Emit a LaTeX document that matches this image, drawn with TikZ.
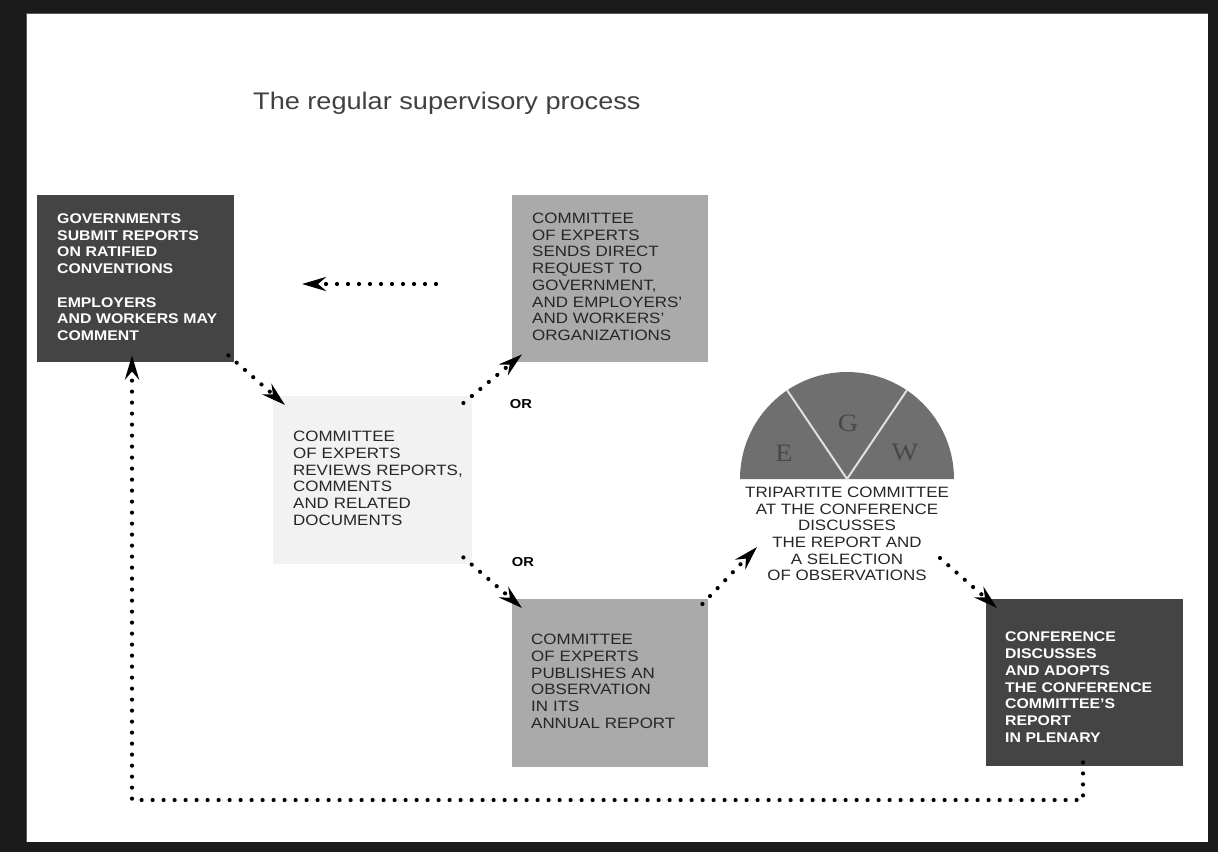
\documentclass[tikz,border=0pt]{standalone}
\usepackage{fontspec}
\setmainfont{Liberation Sans}[FakeStretch=1.13]
\newfontfamily\egwfont{Liberation Serif}[FakeStretch=1.13]
\usetikzlibrary{arrows.meta,calc}
\definecolor{framec}{HTML}{1B1B1B}
\definecolor{darkbox}{HTML}{444444}
\definecolor{midbox}{HTML}{AAAAAA}
\definecolor{lightbox}{HTML}{F2F2F2}
\definecolor{fan}{HTML}{6F6F6F}
\definecolor{fanletter}{HTML}{484848}
\definecolor{ink}{HTML}{262626}
\definecolor{titleink}{HTML}{404040}
\newcommand{\lines}[1]{\begin{tabular}{@{}l@{}}#1\end{tabular}}
\begin{document}
\begin{tikzpicture}[x=1pt,y=-1pt,
  stepbox/.style={rectangle, anchor=north west, inner sep=0pt, align=left},
  darkstep/.style={stepbox, fill=darkbox, text=white, font=\fontsize{14}{16.7}\selectfont\bfseries},
  midstep/.style={stepbox, fill=midbox, text=ink, font=\fontsize{15}{16.7}\selectfont},
  lightstep/.style={stepbox, fill=lightbox, text=ink, font=\fontsize{15}{16.7}\selectfont},
  orlabel/.style={inner sep=0pt, font=\fontsize{13}{15}\selectfont\bfseries, text=black},
  egwletter/.style={inner sep=0pt, text=fanletter, font=\egwfont\fontsize{25}{25}\selectfont},
  sepline/.style={draw=white!88!black, line width=2pt},
  dotline/.style={line width=4.2pt, line cap=round, dash pattern=on 0pt off 11pt,
    -{Stealth[length=24pt,width=14pt,inset=8pt]}}
]
\useasboundingbox (0,0) rectangle (1218,852);
\fill[framec] (0,0) rectangle (1218,852);
\fill[white] (26,13) rectangle (1208,842);
\draw[gray!70!black, line width=1pt] (26.5,842) -- (26.5,13.5) -- (1208,13.5);

% title
\node[anchor=base west, inner sep=0pt, text=titleink, font=\fontsize{24}{28}\selectfont] (title) at (253,109) {The regular supervisory process};

% boxes
\node[darkstep, minimum width=197pt, minimum height=167pt, text width=157pt] (gov) at (37,195)
  {\lines{GOVERNMENTS\\SUBMIT REPORTS\\ON RATIFIED\\CONVENTIONS\\ \\EMPLOYERS\\AND WORKERS MAY\\COMMENT}};
\node[lightstep, minimum width=199pt, minimum height=168pt, text width=159pt] (rev) at (273,396)
  {\lines{COMMITTEE\\OF EXPERTS\\REVIEWS REPORTS,\\COMMENTS\\AND RELATED\\DOCUMENTS}};
\node[midstep, minimum width=196pt, minimum height=167pt, text width=156pt] (dir) at (512,195)
  {\lines{COMMITTEE\\OF EXPERTS\\SENDS DIRECT\\REQUEST TO\\GOVERNMENT,\\AND EMPLOYERS'\\AND WORKERS'\\ORGANIZATIONS}};
\node[midstep, minimum width=196pt, minimum height=168pt, text width=158pt] (obs) at (512,599)
  {\lines{COMMITTEE\\OF EXPERTS\\PUBLISHES AN\\OBSERVATION\\IN ITS\\ANNUAL REPORT}};
\node[darkstep, minimum width=197pt, minimum height=167pt, text width=159pt] (conf) at (986,599)
  {\raisebox{-6pt}[\height][\depth]{\lines{CONFERENCE\\DISCUSSES\\AND ADOPTS\\THE CONFERENCE\\COMMITTEE'S\\REPORT\\IN PLENARY}}};

% tripartite fan
\coordinate (egw) at (847,479);
\fill[fan] ($(egw)+(-107,0)$) arc[start angle=180, end angle=360, radius=107] -- cycle;
\draw[sepline] (egw) -- ($(egw)+(236:107)$);
\draw[sepline] (egw) -- ($(egw)+(304:107)$);
\node[egwletter] (le) at (784,453) {E};
\node[egwletter] (lg) at (848,423) {G};
\node[egwletter] (lw) at (905,452) {W};
\node[inner sep=0pt, align=center, text=ink, font=\fontsize{15}{16.7}\selectfont] (tri) at (847,534)
  {TRIPARTITE COMMITTEE\\AT THE CONFERENCE\\DISCUSSES\\THE REPORT AND\\A SELECTION\\OF OBSERVATIONS};

% OR labels
\node[orlabel] (or1) at (521,404) {OR};
\node[orlabel] (or2) at (523,562) {OR};

% connectors
\coordinate (backstart) at (436,284);
\coordinate (backend) at (302,284);
\draw[dotline] (backstart) -- (backend);
\draw[dotline] ($(gov.south east)+(-6,-7)$) -- ($(rev.north west)+(12,9)$);
\draw[dotline] ($(rev.north east)+(-9,7)$) -- ($(dir.south west)+(10,-8)$);
\draw[dotline] ($(rev.south east)+(-9,-7)$) -- ($(obs.north west)+(10,9)$);
\draw[dotline] ($(obs.north east)+(-6,5)$) -- ($(egw)+(-90,68)$);
\draw[dotline] ($(egw)+(93,79)$) -- ($(conf.north west)+(11,9)$);
\coordinate (lowline) at (0,800);
\coordinate (confout) at ($(conf.south west)+(97,-4)$);
\coordinate (govin) at ($(gov.south west)+(95,-7)$);
\draw[dotline] (confout) -- (confout |- lowline) -| (govin);
\end{tikzpicture}
\end{document}
